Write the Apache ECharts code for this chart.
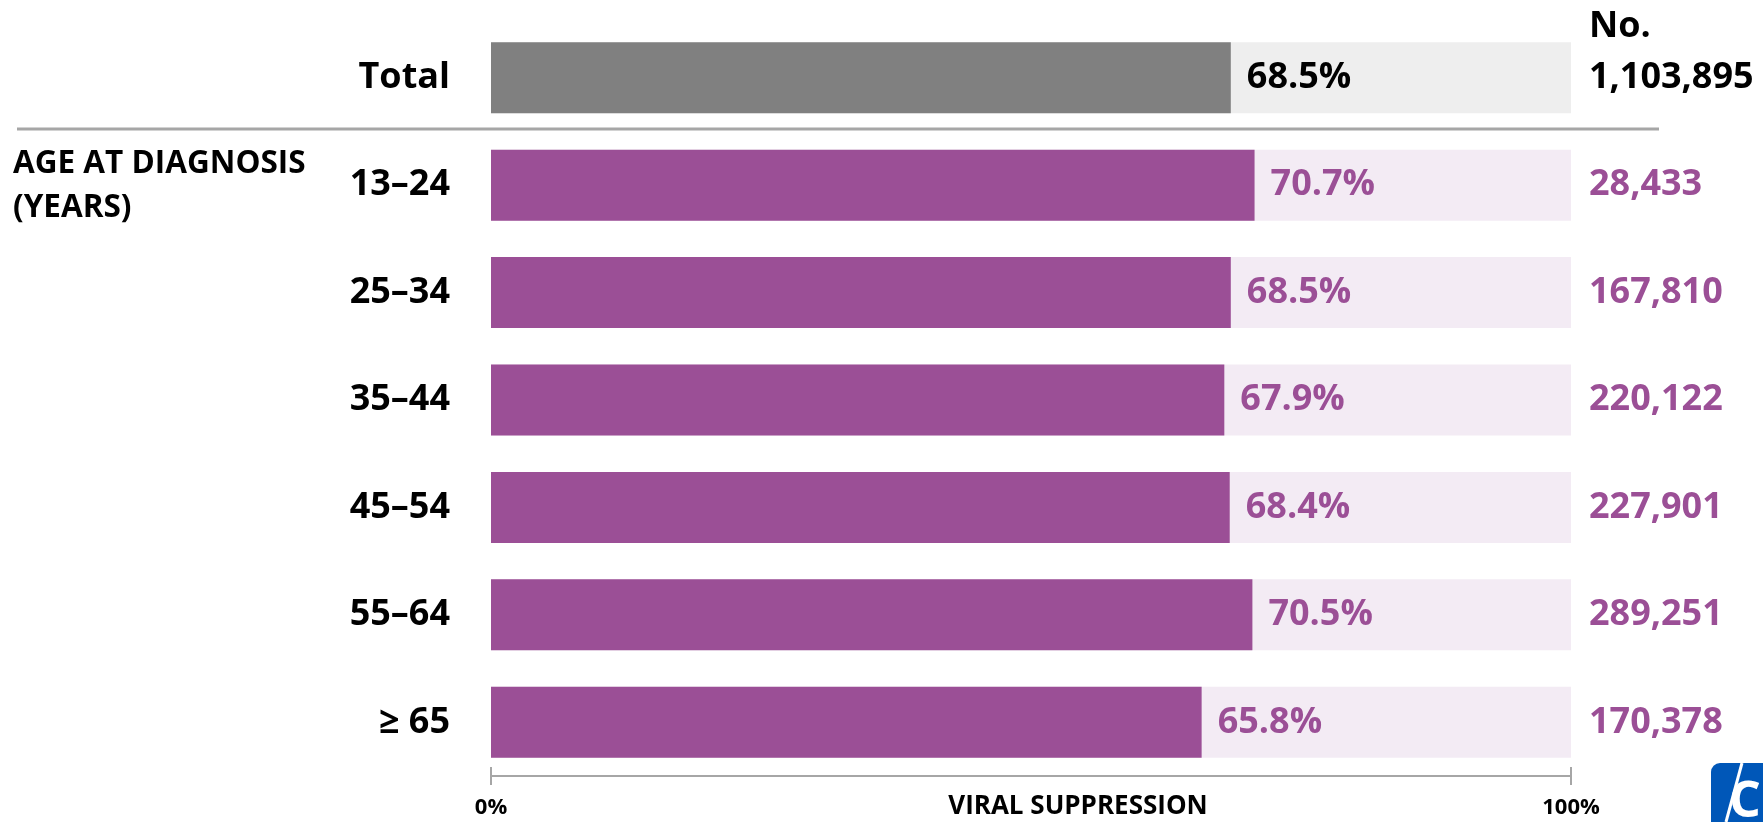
<!DOCTYPE html>
<html>
<head>
<meta charset="utf-8">
<script src="https://cdn.jsdelivr.net/npm/echarts@6/dist/echarts.min.js"></script>
<style>
  html, body { margin: 0; padding: 0; background: #fff; }
  #chart { width: 1763px; height: 822px; }
</style>
</head>
<body>
<div id="chart"></div>
<script>
// rows, top to bottom
var categories = ['Total', '13–24', '25–34', '35–44', '45–54', '55–64', '≥ 65'];
var suppression = [68.5, 70.7, 68.5, 67.9, 68.4, 70.5, 65.8];
var counts = [1103895, 28433, 167810, 220122, 227901, 289251, 170378];
var fullScale = [100, 100, 100, 100, 100, 100, 100];
var axisTicks = ['0%', '100%'];

var FONT = "'Open Sans', 'Noto Sans', sans-serif";
var PURPLE = '#9b4f96';
var PURPLE_LIGHT = '#f3ebf4';
var GREY = '#808080';
var GREY_LIGHT = '#eeeeee';

var chart = echarts.init(document.getElementById('chart'));

var bgData = fullScale.map(function (v, i) {
  return {
    value: v,
    itemStyle: { color: i === 0 ? GREY_LIGHT : PURPLE_LIGHT },
    label: { color: i === 0 ? '#000' : PURPLE }
  };
});

var barData = suppression.map(function (v, i) {
  return {
    value: v,
    itemStyle: { color: i === 0 ? GREY : PURPLE },
    label: { color: i === 0 ? '#000' : PURPLE }
  };
});

var option = {
  animation: false,
  grid: { left: 491, right: 192, top: 24, bottom: 46, outerBoundsMode: 'none', containLabel: false },
  xAxis: [
    {
      type: 'value', min: 0, max: 100, interval: 100,
      axisLine: { show: true, lineStyle: { color: '#a6a6a6', width: 2 } },
      axisTick: { show: true, length: 9, lineStyle: { color: '#a6a6a6', width: 2 } },
      axisLabel: {
        margin: 21, fontFamily: FONT, fontSize: 22, fontWeight: 'bold', color: '#000',
        formatter: function (v) { return v === 0 ? axisTicks[0] : axisTicks[1]; }
      },
      splitLine: { show: false }
    },
    {
      // inward half of the end ticks
      type: 'value', min: 0, max: 100, interval: 100, position: 'bottom',
      axisLine: { show: false },
      axisTick: { show: true, inside: true, length: 9, lineStyle: { color: '#a6a6a6', width: 2 } },
      axisLabel: { show: false },
      splitLine: { show: false }
    }
  ],
  yAxis: {
    type: 'category', inverse: true, data: categories,
    axisLine: { show: false }, axisTick: { show: false },
    axisLabel: { margin: 41, fontFamily: FONT, fontSize: 36, fontWeight: 'bold', color: '#000' }
  },
  series: [
    {
      name: 'background', type: 'bar', barWidth: 71, data: bgData, silent: true,
      label: {
        show: true, position: 'right', distance: 18,
        fontFamily: FONT, fontSize: 36, fontWeight: 'bold',
        formatter: function (p) { return counts[p.dataIndex].toLocaleString('en-US'); }
      }
    },
    {
      name: 'Viral suppression', type: 'bar', barWidth: 71, barGap: '-100%', data: barData,
      label: {
        show: true, position: 'right', distance: 16,
        fontFamily: FONT, fontSize: 36, fontWeight: 'bold',
        formatter: function (p) { return p.value.toFixed(1) + '%'; }
      }
    }
  ],
  graphic: [
    { type: 'line', shape: { x1: 17, y1: 129, x2: 1659, y2: 129 }, style: { stroke: '#a6a6a6', lineWidth: 3 } },
    { type: 'text', left: 1589, top: 9, style: { text: 'No.', font: 'bold 36px ' + FONT, fill: '#000' } },
    { type: 'text', x: 13, y: 164, style: { text: 'AGE AT DIAGNOSIS', font: 'bold 31.5px ' + FONT, fill: '#000', textVerticalAlign: 'middle' } },
    { type: 'text', x: 13, y: 208, style: { text: '(YEARS)', font: 'bold 31.5px ' + FONT, fill: '#000', textVerticalAlign: 'middle' } },
    // x axis title, set right of the axis centre as in the original
    { type: 'text', x: 1078, y: 807, style: { text: 'VIRAL SUPPRESSION', font: 'bold 26px ' + FONT, fill: '#000', textAlign: 'center', textVerticalAlign: 'middle' } },
    // logo in the corner
    { type: 'rect', shape: { x: 1711, y: 763, width: 70, height: 80, r: 9 }, style: { fill: '#0057b8' } },
    { type: 'line', shape: { x1: 1742, y1: 763, x2: 1726, y2: 822 }, style: { stroke: '#fff', lineWidth: 3 } },
    { type: 'text', x: 1729, y: 778, style: { text: 'C', font: 'bold 50px ' + FONT, fill: '#fff' } }
  ]
};

chart.setOption(option);
</script>
</body>
</html>
